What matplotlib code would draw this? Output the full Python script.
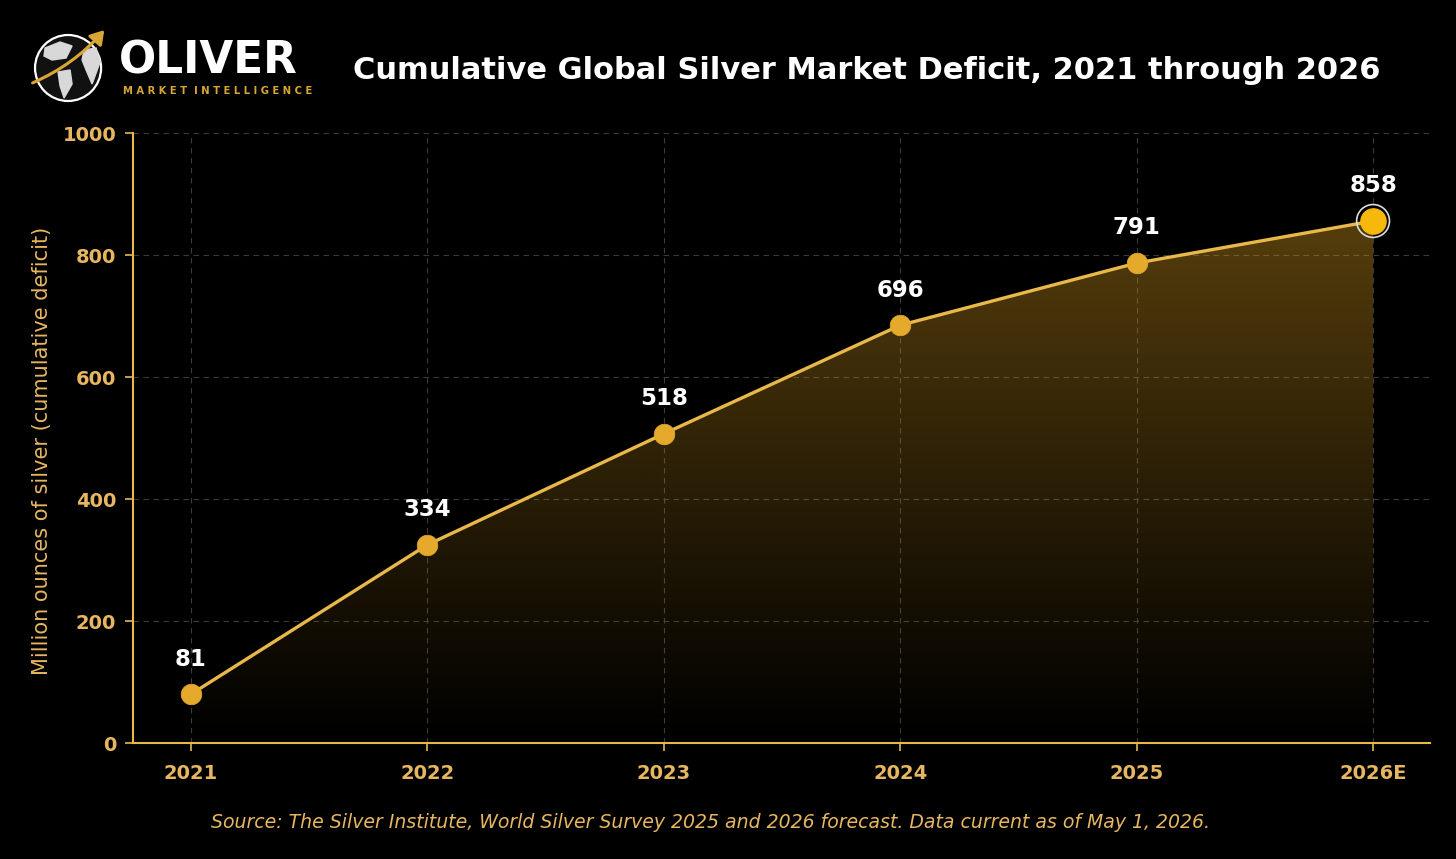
import numpy as np
import matplotlib
matplotlib.use("Agg")
import matplotlib.pyplot as plt
from matplotlib.patches import Polygon, Circle, FancyArrowPatch

years = ["2021", "2022", "2023", "2024", "2025", "2026E"]
plotted_values = [80, 325, 507, 685, 787, 856]
label_values = [81, 334, 518, 696, 791, 858]
y_ticks = [0, 200, 400, 600, 800, 1000]

title = "Cumulative Global Silver Market Deficit, 2021 through 2026"
ylabel = "Million ounces of silver (cumulative deficit)"
source = "Source: The Silver Institute, World Silver Survey 2025 and 2026 forecast. Data current as of May 1, 2026."

GOLD = "#E9B84A"
TICK = "#E6B660"
BG = "#000000"

fig = plt.figure(figsize=(14.56, 8.59), dpi=100, facecolor=BG)
ax = fig.add_axes([0.0913, 0.135, 0.8907, 0.710], facecolor=BG)

x = np.arange(len(years))

# gradient fill under line
grad = np.zeros((256, 2, 4))
alphas = np.linspace(0.0, 0.42, 256)[:, None]
grad[..., 0] = 0.80
grad[..., 1] = 0.58
grad[..., 2] = 0.12
grad[..., 3] = alphas
img = ax.imshow(grad, extent=[x[0], x[-1], 0, max(plotted_values)], origin="lower",
                aspect="auto", zorder=1, interpolation="bilinear")
poly = Polygon(np.column_stack([np.r_[x[0], x, x[-1]], np.r_[0, plotted_values, 0]]),
               closed=True, facecolor="none", edgecolor="none", transform=ax.transData)
ax.add_patch(poly)
img.set_clip_path(poly)
ax.set_xlim(-0.245, len(years) - 1 + 0.24)
ax.set_ylim(0, 1000)

ax.plot(x, plotted_values, color=GOLD, lw=2.4, zorder=3)
ax.scatter(x[:-1], plotted_values[:-1], s=220, color="#E5AA2C", zorder=4, edgecolor="#E5AA2C", linewidth=0.5)
ax.scatter([x[-1]], [plotted_values[-1]], s=560, facecolor="none", edgecolor="#DDDDDD", linewidth=1.2, zorder=4)
ax.scatter([x[-1]], [plotted_values[-1]], s=330, color="#F6B80A", zorder=5)

for xi, yv, lab in zip(x, plotted_values, label_values):
    ax.annotate(f"{lab}", (xi, yv), xytext=(0, 17), textcoords="offset points",
                ha="center", va="bottom", color="white", fontsize=16.5, fontweight="bold", zorder=6)

ax.set_xticks(x)
ax.set_xticklabels(years)
ax.set_yticks(y_ticks)
ax.tick_params(colors=GOLD, labelcolor=TICK, labelsize=14, length=6, width=1.2, pad=6)
for lab in ax.get_xticklabels() + ax.get_yticklabels():
    lab.set_fontweight("bold")
ax.tick_params(axis="x", pad=9)

for s in ["top", "right"]:
    ax.spines[s].set_visible(False)
for s in ["left", "bottom"]:
    ax.spines[s].set_color(GOLD)
    ax.spines[s].set_linewidth(1.5)

ax.grid(True, color="#3a3a3a", linestyle=(0, (5, 4)), linewidth=0.8, zorder=0)
ax.set_axisbelow(True)

ax.set_ylabel(ylabel, color=TICK, fontsize=15)
ax.yaxis.set_label_coords(-0.0623, 0.479)

fig.text(0.595, 0.918, title, color="white", fontsize=22, fontweight="bold", ha="center", va="center")
fig.text(0.488, 0.043, source, color=TICK, fontsize=13.6, style="italic", ha="center", va="center")

# logo
lax = fig.add_axes([0, 0.85, 0.22, 0.15], facecolor=BG)
lax.set_xlim(0, 320)
lax.set_ylim(128.85, 0)
lax.axis("off")
lax.add_patch(Circle((68, 68), 33, facecolor="#111111", edgecolor="white", lw=1.6))
# rough continents
lax.add_patch(Polygon([[45, 48], [60, 42], [72, 46], [66, 58], [52, 60], [44, 56]], closed=True, color="#d8d8d8"))
lax.add_patch(Polygon([[58, 72], [70, 70], [72, 84], [64, 98], [60, 86]], closed=True, color="#d8d8d8"))
lax.add_patch(Polygon([[84, 50], [96, 48], [100, 62], [92, 84], [86, 70], [82, 60]], closed=True, color="#d8d8d8"))
lax.add_patch(FancyArrowPatch((30, 84), (106, 28), connectionstyle="arc3,rad=0.12",
                              arrowstyle="-|>,head_length=8,head_width=5", color="#D9A636", lw=2.2))
lax.text(119, 73, "OLIVER", color="white", fontsize=31.5, fontfamily="DejaVu Sans",
         fontweight="bold", va="baseline")
lax.text(123, 94, "M A R K E T  I N T E L L I G E N C E", color="#D9A636",
         fontsize=7.2, fontfamily="DejaVu Sans", fontweight="bold", va="baseline")

fig.savefig("out.png", dpi=100, facecolor=BG)
